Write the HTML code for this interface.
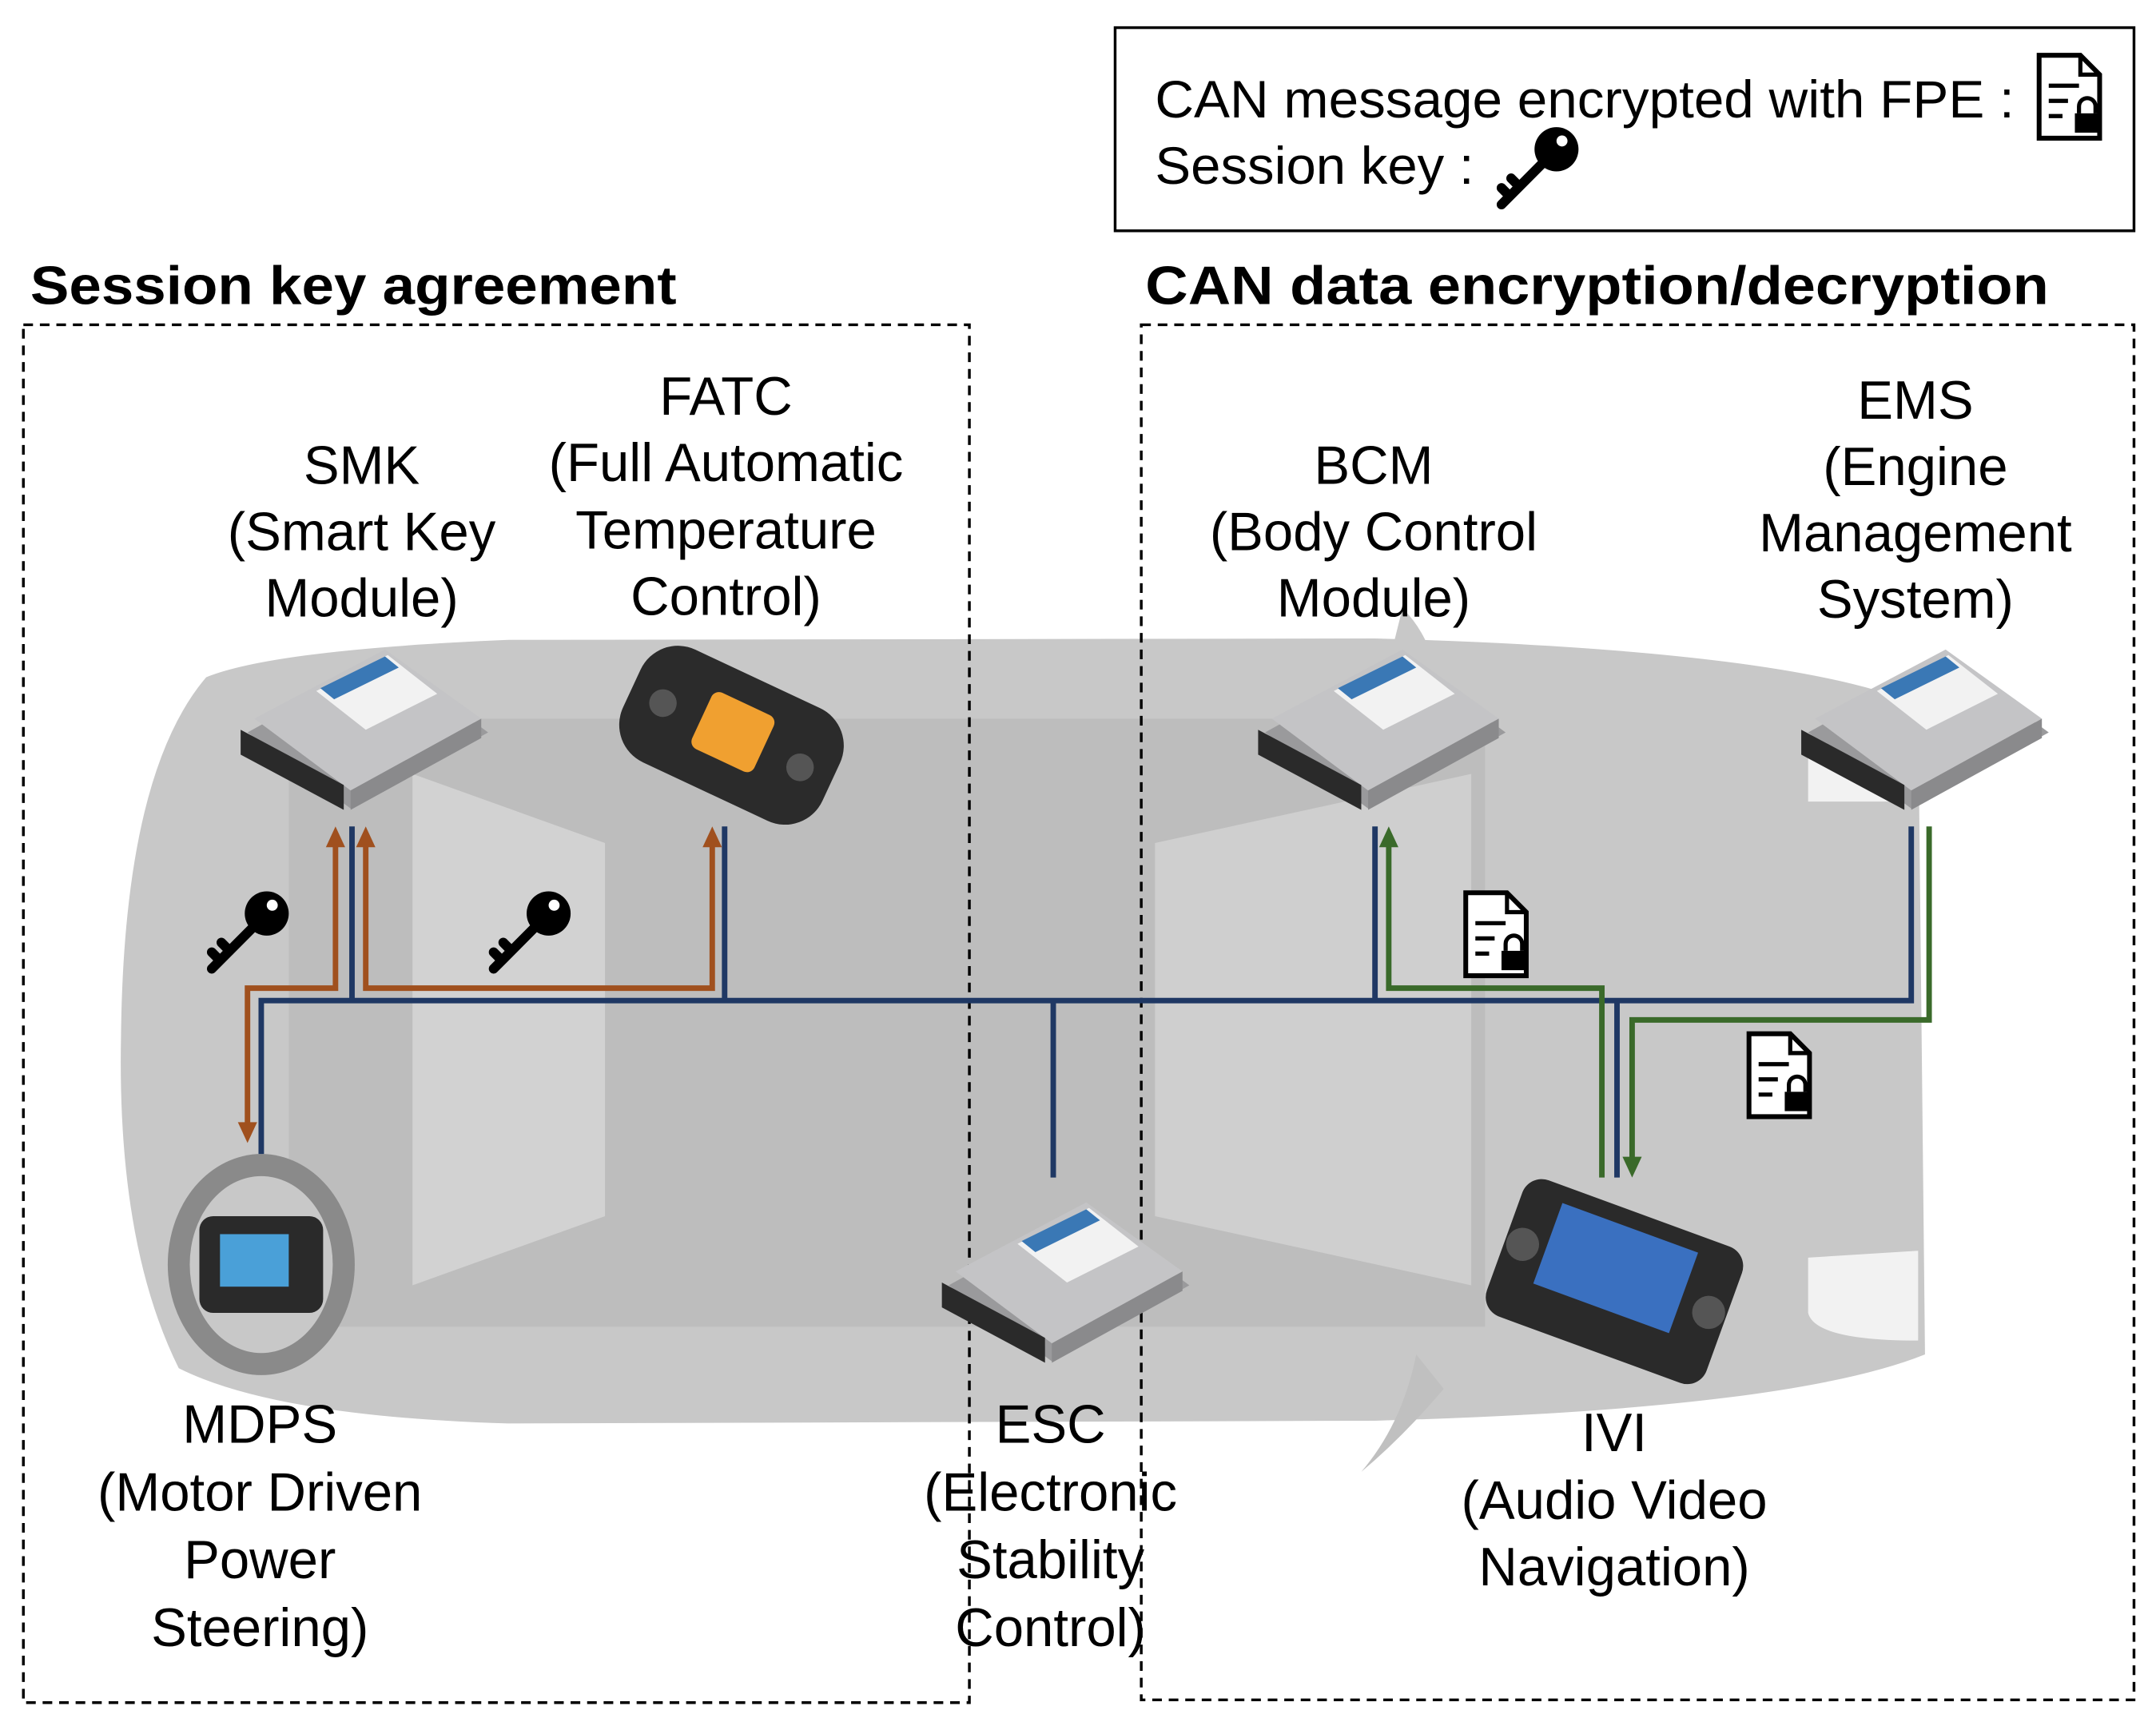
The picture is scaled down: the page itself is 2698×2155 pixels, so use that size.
<!DOCTYPE html>
<html><head><meta charset="utf-8"><style>
html,body{margin:0;padding:0;background:#fff;}
svg{display:block;}
text{font-family:"Liberation Sans","DejaVu Sans",sans-serif;fill:#000;}
.l{font-size:39px;text-anchor:middle;}
</style></head><body>
<svg width="2698" height="2155" viewBox="0 0 1568 1246" preserveAspectRatio="none" xmlns="http://www.w3.org/2000/svg">
<defs>
<g id="ecu">
  <polygon points="-80,10 20,-45 95,10 -5,65" fill="#9a9a9c"/>
  <polygon points="-75,0 20,-50 90,0 -5,52" fill="#c4c4c6"/>
  <polygon points="-5,52 90,0 90,14 -5,66" fill="#8a8a8c"/>
  <polygon points="-30,-20 22,-46 58,-18 6,8" fill="#f2f2f2"/>
  <polygon points="-27,-22 20,-45 30,-37 -17,-14" fill="#3a78b5"/>
  <polygon points="-85,8 -10,48 -10,66 -85,26" fill="#2a2a2a"/>
</g>
<g id="key">
  <circle cx="14" cy="-14" r="16" fill="#000"/>
  <circle cx="18" cy="-20" r="4" fill="#fff"/>
  <path d="M4,-4 L-26,26 M-20,20 l-6,-6 M-13,13 l-6,-6" stroke="#000" stroke-width="7" fill="none" stroke-linecap="round"/>
</g>
<g id="doc">
  <path d="M-22,-30 h30 l14,14 v46 h-44 z" fill="#fff" stroke="#000" stroke-width="3.5"/>
  <path d="M8,-30 v14 h14" fill="none" stroke="#000" stroke-width="3"/>
  <path d="M-15,-8 h22 M-15,3 h14 M-15,14 h10" stroke="#000" stroke-width="3"/>
  <rect x="4" y="12" width="18" height="14" fill="#000"/>
  <path d="M7,12 v-5 a6,6 0 0 1 12,0 v5" fill="none" stroke="#000" stroke-width="3"/>
</g>
</defs>
<!-- car -->
<path d="M150,490 Q200,470 370,463 L1000,462 Q1300,470 1395,510 L1400,980 Q1300,1020 1000,1028 L370,1030 Q200,1025 130,990 Q85,900 88,750 Q90,560 150,490 Z" fill="#c8c8c8"/>
<polygon points="210,520 1080,520 1080,960 210,960" fill="#bdbdbd"/>
<polygon points="300,560 440,610 440,880 300,930" fill="#d2d2d2"/>
<polygon points="840,610 1070,560 1070,930 840,880" fill="#cfcfcf"/>
<path d="M1020,440 Q1040,460 1045,490 L1010,480 Z" fill="#c8c8c8"/>
<path d="M1030,980 Q1020,1030 990,1065 Q1020,1040 1050,1005 Z" fill="#c0c0c0"/>
<path d="M1315,540 Q1380,530 1390,560 L1390,580 L1315,580 Z" fill="#f2f2f2"/>
<path d="M1315,910 L1395,905 L1395,970 Q1320,970 1315,950 Z" fill="#f2f2f2"/>

<!-- dashed boxes -->
<rect x="17" y="235" width="688" height="997" fill="none" stroke="#000" stroke-width="2" stroke-dasharray="7,5"/>
<rect x="830" y="235" width="722" height="995" fill="none" stroke="#000" stroke-width="2" stroke-dasharray="7,5"/>

<!-- legend -->
<rect x="811" y="20" width="741" height="147" fill="#fff" stroke="#000" stroke-width="2"/>
<text x="840" y="85" font-size="38" textLength="625" lengthAdjust="spacingAndGlyphs">CAN message encrypted with FPE :</text>
<text x="840" y="133" font-size="38" textLength="232" lengthAdjust="spacingAndGlyphs">Session key :</text>
<use href="#doc" x="1505" y="70"/>
<use href="#key" x="1118" y="122"/>

<text x="22" y="220" font-size="39" font-weight="bold" textLength="470" lengthAdjust="spacingAndGlyphs">Session key agreement</text>
<text x="833" y="220" font-size="39" font-weight="bold" textLength="657" lengthAdjust="spacingAndGlyphs">CAN data encryption/decryption</text>

<!-- labels -->
<text class="l" x="263" y="350">SMK</text><text class="l" x="263" y="398">(Smart Key</text><text class="l" x="263" y="446">Module)</text>
<text class="l" x="528" y="300">FATC</text><text class="l" x="528" y="348">(Full Automatic</text><text class="l" x="528" y="397">Temperature</text><text class="l" x="528" y="445">Control)</text>
<text class="l" x="999" y="350">BCM</text><text class="l" x="999" y="398">(Body Control</text><text class="l" x="999" y="446">Module)</text>
<text class="l" x="1393" y="303">EMS</text><text class="l" x="1393" y="351">(Engine</text><text class="l" x="1393" y="399">Management</text><text class="l" x="1393" y="447">System)</text>
<text class="l" x="189" y="1044">MDPS</text><text class="l" x="189" y="1093">(Motor Driven</text><text class="l" x="189" y="1142">Power</text><text class="l" x="189" y="1191">Steering)</text>
<text class="l" x="764" y="1044">ESC</text><text class="l" x="764" y="1093">(Electronic</text><text class="l" x="764" y="1142">Stability</text><text class="l" x="764" y="1191">Control)</text>
<text class="l" x="1174" y="1050">IVI</text><text class="l" x="1174" y="1099">(Audio Video</text><text class="l" x="1174" y="1147">Navigation)</text>

<!-- devices -->
<use href="#ecu" x="260" y="520"/>
<use href="#ecu" x="1000" y="520"/>
<use href="#ecu" x="1395" y="520"/>
<use href="#ecu" x="770" y="920"/>
<g transform="translate(532,532) rotate(25)">
  <rect x="-80" y="-45" width="160" height="90" rx="30" fill="#2b2b2b"/>
  <rect x="-25" y="-25" width="50" height="45" rx="6" fill="#f0a030"/>
  <circle cx="-55" cy="0" r="10" fill="#555"/><circle cx="55" cy="0" r="10" fill="#555"/>
</g>
<g transform="translate(190,915)">
  <ellipse cx="0" cy="0" rx="68" ry="80" fill="#8a8a8a"/>
  <ellipse cx="0" cy="0" rx="52" ry="64" fill="#c8c8c8"/>
  <rect x="-45" y="-35" width="90" height="70" rx="10" fill="#2a2a2a"/>
  <rect x="-30" y="-22" width="50" height="38" fill="#4aa0d8"/>
</g>
<g transform="translate(1175,925) rotate(20)">
  <rect x="-85" y="-50" width="170" height="105" rx="15" fill="#2a2a2a"/>
  <rect x="-55" y="-38" width="105" height="62" fill="#3a70c0"/>
  <circle cx="-72" cy="0" r="12" fill="#555"/><circle cx="72" cy="0" r="12" fill="#555"/>
</g>

<!-- bus -->
<g stroke="#1f3864" stroke-width="4" fill="none">
  <path d="M190,835 V724 H1176 M1176,852 V724 H1390 V598"/>
  <path d="M256,598 V724 M527,598 V724 M766,724 V852 M1000,598 V724"/>
</g>
<!-- brown -->
<g stroke="#a0501e" stroke-width="4" fill="none">
  <path d="M180,815 V715 H244 V610"/>
  <path d="M266,610 V715 H518 V610"/>
</g>
<g fill="#a0501e">
  <polygon points="180,827 173,812 187,812"/>
  <polygon points="244,598 237,613 251,613"/>
  <polygon points="266,598 259,613 273,613"/>
  <polygon points="518,598 511,613 525,613"/>
</g>
<!-- green -->
<g stroke="#3a6a2a" stroke-width="4" fill="none">
  <path d="M1010,610 V715 H1165 V852"/>
  <path d="M1403,598 V738 H1187 V840"/>
</g>
<g fill="#3a6a2a">
  <polygon points="1010,598 1003,613 1017,613"/>
  <polygon points="1187,852 1180,837 1194,837"/>
</g>

<use href="#key" x="180" y="675"/>
<use href="#key" x="385" y="675"/>
<use href="#doc" x="1088" y="676"/>
<use href="#doc" x="1294" y="778"/>
</svg>
</body></html>
